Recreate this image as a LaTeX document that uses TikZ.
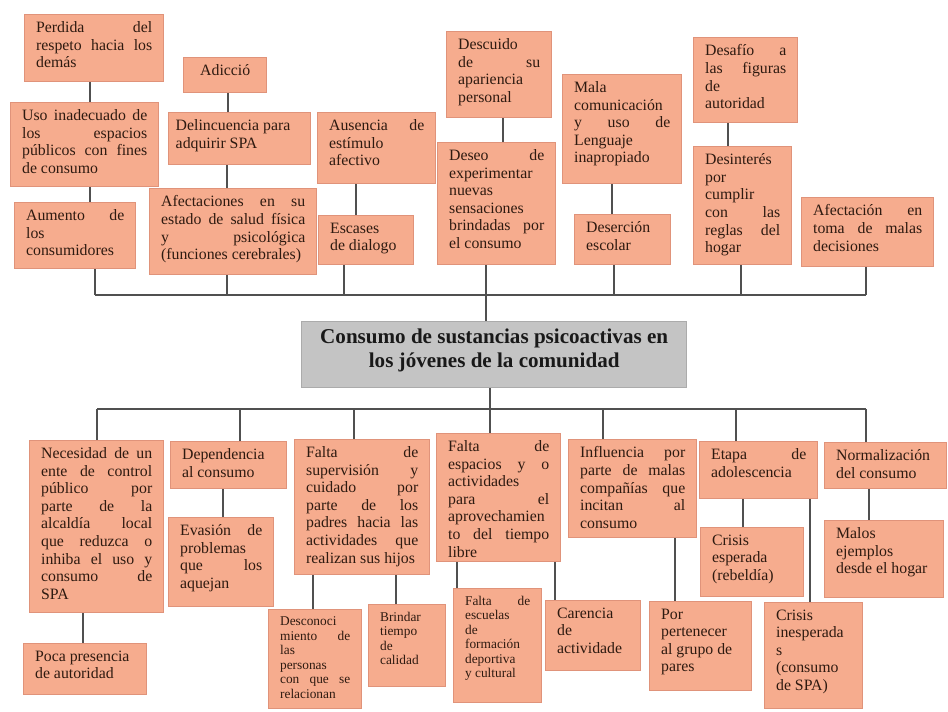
\documentclass[tikz,border=0pt]{standalone}
\usepackage{fontspec}
\setmainfont{Liberation Serif}
\usepackage{tikz}
\definecolor{salmon}{HTML}{F6AC8E}
\definecolor{salmonb}{HTML}{E0937A}
\definecolor{gris}{HTML}{C4C4C4}
\definecolor{grisb}{HTML}{ABABAB}
\definecolor{gline}{HTML}{505050}
\definecolor{letra}{HTML}{2E1A10}
% text of a box: width and height in px, then the text
\newcommand{\caja}[3]{\parbox[t][\dimexpr 0.02cm*(#2)-8pt\relax][t]{\dimexpr 0.02cm*(#1)-8pt\relax}{\tolerance=10000 \hyphenpenalty=10000 \leftskip=2.5pt \rightskip=2.5pt #3}}

\begin{document}
\begin{tikzpicture}[x=0.02cm,y=-0.02cm,
  box/.style={draw=salmonb, fill=salmon, line width=0.8pt, inner sep=4pt, anchor=north west, text=letra, font=\fontsize{9}{10}\selectfont},
  smallbox/.style={box, font=\fontsize{7.6}{8.3}\selectfont},
  main/.style={draw=grisb, fill=gris, line width=0.8pt, inner sep=4pt, anchor=north west, text=black!90, font=\fontsize{12}{13.5}\selectfont\bfseries},
  link/.style={draw=gline, line width=1.1pt}]
\fill[white] (0,0) rectangle (948,711);
\useasboundingbox (0,0) rectangle (948,711);
% central problem
\node[main] (cen) at (301,321) {\caja{385}{66}{\centering Consumo de sustancias psicoactivas en\\ los jóvenes de la comunidad}};
% upper boxes (effects)
\foreach \n/\xa/\ya/\xb/\yb/\texto in {%
per/24/14/163/81/{Perdida del\linebreak respeto hacia los\linebreak demás},
adi/183/57/266/92/{\centering Adicció},
uso/10/102/158/186/{Uso inadecuado de\linebreak los espacios\linebreak públicos con fines\linebreak de consumo},
del/168/112/310/164/{\leftskip=0pt \rightskip=0pt Delincuencia para\\ adquirir SPA},
aum/14/202/135/268/{Aumento de\linebreak los\linebreak consumidores},
afe/149/188/316/274/{Afectaciones en su\linebreak estado de salud física\linebreak y psicológica\linebreak (funciones cerebrales)},
aus/317/112/435/183/{Ausencia de\linebreak estímulo\linebreak afectivo},
esc/318/215/413/264/{Escases\linebreak de dialogo},
des/446/31/551/117/{Descuido\linebreak de su\linebreak apariencia\linebreak personal},
dse/437/142/555/264/{Deseo de\linebreak experimentar\linebreak nuevas\linebreak sensaciones\linebreak brindadas por\linebreak el consumo},
mal/562/74/681/183/{Mala\linebreak comunicación\linebreak y uso de\linebreak Lenguaje\linebreak inapropiado},
dsr/574/214/670/264/{Deserción\linebreak escolar},
daf/693/37/797/122/{Desafío a\linebreak las figuras\linebreak de\linebreak autoridad},
din/693/146/791/264/{Desinterés\linebreak por\linebreak cumplir\linebreak con las\linebreak reglas del\linebreak hogar},
tom/801/197/933/266/{Afectación en\linebreak toma de malas\linebreak decisiones}%
}
  \node[box] (\n) at (\xa,\ya) {\caja{\xb-\xa}{\yb-\ya}{\texto}};
% lower boxes (causes)
\foreach \n/\xa/\ya/\xb/\yb/\texto in {%
nec/29/440/163/612/{Necesidad de un\linebreak ente de control\linebreak público por\linebreak parte de la\linebreak alcaldía local\linebreak que reduzca o\linebreak inhiba el uso y\linebreak consumo de\linebreak SPA},
dep/170/441/286/488/{Dependencia\linebreak al consumo},
eva/168/517/273/606/{Evasión de\linebreak problemas\linebreak que los\linebreak aquejan},
poc/23/643/146/694/{Poca presencia\\ de autoridad},
sup/294/439/429/574/{Falta de\linebreak supervisión y\linebreak cuidado por\linebreak parte de los\linebreak padres hacia las\linebreak actividades que\linebreak realizan sus hijos},
esp/436/433/560/561/{Falta de\linebreak espacios y o\linebreak actividades\linebreak para el\linebreak aprovechamien\linebreak to del tiempo\linebreak libre},
inf/568/439/696/537/{Influencia por\linebreak parte de malas\linebreak compañías que\linebreak incitan al\linebreak consumo},
eta/699/441/817/498/{Etapa de\linebreak adolescencia},
nor/824/442/946/488/{Normalización\\ del consumo},
car/545/600/640/670/{Carencia\linebreak de\linebreak actividade},
por/649/601/751/690/{Por\linebreak pertenecer\linebreak al grupo de\\ pares},
cre/700/527/803/596/{Crisis\linebreak esperada\linebreak (rebeldía)},
cri/764/602/862/708/{Crisis\linebreak inesperada\linebreak s\linebreak (consumo\linebreak de SPA)},
mej/824/520/943/597/{Malos\linebreak ejemplos\linebreak desde el hogar}%
}
  \node[box] (\n) at (\xa,\ya) {\caja{\xb-\xa}{\yb-\ya}{\texto}};
% small print boxes
\foreach \n/\xa/\ya/\xb/\yb/\texto in {%
dcn/268/609/361/708/{Desconoci\linebreak miento de\linebreak las\linebreak personas\linebreak con que se\linebreak relacionan},
bri/368/604/445/686/{Brindar\linebreak tiempo\linebreak de\linebreak calidad},
fes/453/588/541/702/{Falta de\linebreak escuelas\linebreak de\linebreak formación\linebreak deportiva\linebreak y cultural}%
}
  \node[smallbox] (\n) at (\xa,\ya) {\caja{\xb-\xa}{\yb-\ya}{\texto}};
% links between stacked boxes
\foreach \a/\b/\x in {per/uso/90, uso/aum/90, adi/del/228, del/afe/227, aus/esc/356, des/dse/503, mal/dsr/612, daf/din/728, nec/poc/83, dep/eva/223, sup/dcn/313, sup/bri/396, esp/fes/457, esp/car/555, inf/por/675, eta/cre/743, eta/cri/810, nor/mej/869}
  \draw[link] (\a.south -| \x,0) -- (\b.north -| \x,0);
% upper bus
\coordinate (bt) at (486,295);
\foreach \b/\x in {aum/95, afe/227, esc/344, dse/486, dsr/614, din/741, tom/866}
  \draw[link] (\b.south -| \x,0) -- (bt -| \x,0);
\draw[link] (bt -| 95,0) -- (bt -| 866,0);
\draw[link] (bt) -- (cen.north -| bt);
% lower bus
\coordinate (bb) at (490,409);
\draw[link] (cen.south -| bb) -- (bb);
\draw[link] (bb -| 97,0) -- (bb -| 866,0);
\foreach \b/\x in {nec/97, dep/240, sup/354, esp/490, inf/603, eta/736, nor/866}
  \draw[link] (bb -| \x,0) -- (\b.north -| \x,0);
\end{tikzpicture}
\end{document}
